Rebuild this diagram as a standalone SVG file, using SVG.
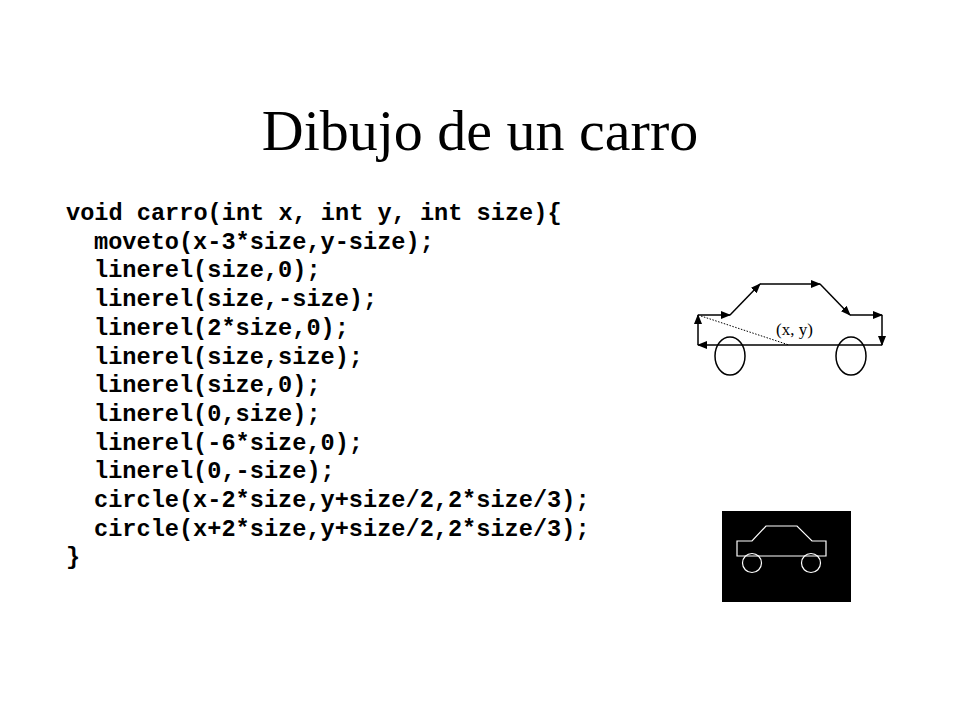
<svg xmlns="http://www.w3.org/2000/svg" width="960" height="720" viewBox="0 0 960 720">
<style>
.code{font-family:"Liberation Mono",monospace;font-weight:bold;font-size:23.6px;white-space:pre}
.ln{stroke:#000;stroke-width:1.5;fill:none}
.w{stroke:#fff;stroke-width:1.2;fill:none}
</style>
<defs><marker id="a" markerWidth="10" markerHeight="8" refX="9" refY="4" orient="auto" markerUnits="userSpaceOnUse"><path d="M0,0L10,4L0,8z"/></marker></defs>
<rect width="960" height="720" fill="#fff"/>
<text x="480" y="150" text-anchor="middle" font-family="Liberation Serif,serif" font-size="58">Dibujo de un carro</text>
<g class="code">
<text x="66" y="220">void carro(int x, int y, int size){</text>
<text x="94" y="248.7">moveto(x-3*size,y-size);</text>
<text x="94" y="277.4">linerel(size,0);</text>
<text x="94" y="306.1">linerel(size,-size);</text>
<text x="94" y="334.8">linerel(2*size,0);</text>
<text x="94" y="363.5">linerel(size,size);</text>
<text x="94" y="392.2">linerel(size,0);</text>
<text x="94" y="420.9">linerel(0,size);</text>
<text x="94" y="449.6">linerel(-6*size,0);</text>
<text x="94" y="478.3">linerel(0,-size);</text>
<text x="94" y="507">circle(x-2*size,y+size/2,2*size/3);</text>
<text x="94" y="535.7">circle(x+2*size,y+size/2,2*size/3);</text>
<text x="66" y="564.4">}</text>
</g>
<g id="car-diagram">
<g id="connectors" class="ln" marker-end="url(#a)">
<line x1="698" y1="315" x2="730" y2="315"/>
<line x1="730" y1="315" x2="760" y2="284"/>
<line x1="760" y1="284" x2="820" y2="284"/>
<line x1="820" y1="284" x2="850" y2="315"/>
<line x1="850" y1="315" x2="882" y2="315"/>
<line x1="882" y1="315" x2="882" y2="345"/>
<line x1="882" y1="345" x2="698" y2="345"/>
<line x1="698" y1="345" x2="698" y2="315"/>
</g>
<line x1="701" y1="316" x2="789" y2="345" stroke="#000" stroke-width="1" stroke-dasharray="1.5,1.5"/>
<ellipse cx="730" cy="356" rx="15" ry="19" class="ln" stroke-width="1.2"/>
<ellipse cx="851" cy="356" rx="15" ry="19" class="ln" stroke-width="1.2"/>
<text x="776" y="335" font-family="Liberation Serif,serif" font-size="17">(x, y)</text>
</g>
<g id="car-render">
<rect x="722" y="511" width="129" height="91" fill="#000"/>
<path class="w" d="M737,541H752L766,526H797L812,541H826V556H737Z"/>
<circle cx="752" cy="563" r="9.5" class="w"/>
<circle cx="811" cy="563" r="9.5" class="w"/>
</g>
</svg>
